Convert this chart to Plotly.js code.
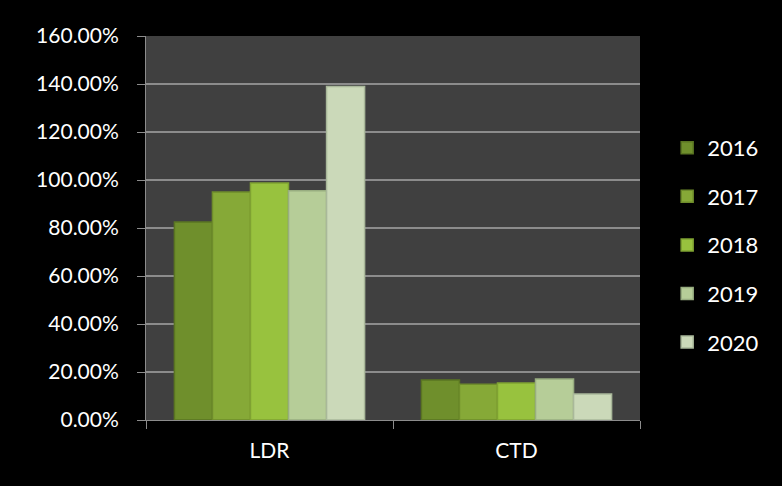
<!DOCTYPE html>
<html>
<head>
<meta charset="utf-8">
<script src="https://cdn.plot.ly/plotly-3.0.1.min.js"></script>
<style>html,body{margin:0;padding:0;background:#000;}#chart{width:782px;height:486px;}</style>
</head>
<body>
<div id="chart"></div>
<script>
const categories = ["LDR", "CTD"];
const years = ["2016", "2017", "2018", "2019", "2020"];
const v2016 = [0.825, 0.167];
const v2017 = [0.95, 0.149];
const v2018 = [0.987, 0.154];
const v2019 = [0.955, 0.171];
const v2020 = [1.39, 0.108];
const yTickVals = [0, 0.2, 0.4, 0.6, 0.8, 1.0, 1.2, 1.4, 1.6];

const seriesValues = [v2016, v2017, v2018, v2019, v2020];
const fills = ["#6f8f2c", "#86a937", "#98c23e", "#b6cd98", "#cbd9b9"];
const edges = ["#5a7522", "#6e8c2b", "#7fa232", "#98ad80", "#a9b89a"];

const traces = years.map((y, i) => ({
  type: "bar",
  name: y,
  x: categories,
  y: seriesValues[i],
  legendgroup: y,
  marker: {color: fills[i], line: {color: edges[i], width: 1.5}},
  hoverinfo: "x+y+name"
}));

const layout = {
  width: 782, height: 486,
  paper_bgcolor: "#000000",
  plot_bgcolor: "#404040",
  margin: {l: 146, r: 142, t: 36, b: 66},
  barmode: "group",
  bargap: 0.23,
  bargroupgap: 0,
  font: {family: "Lato, 'Open Sans', sans-serif", color: "#ffffff", size: 21},
  xaxis: {
    type: "category",
    tickson: "boundaries",
    ticks: "outside", ticklen: 8, tickcolor: "#8c8c8c", tickwidth: 1,
    showline: true, linecolor: "#8c8c8c", linewidth: 1,
    showgrid: false,
    tickfont: {size: 21, color: "#ffffff"},
    ticklabelstandoff: 12
  },
  yaxis: {
    range: [0, 1.6],
    tickvals: yTickVals,
    tickformat: ".2%",
    ticks: "outside", ticklen: 8, tickcolor: "#8c8c8c", tickwidth: 1,
    showline: true, linecolor: "#8c8c8c", linewidth: 1,
    gridcolor: "#8c8c8c", gridwidth: 1.5,
    zeroline: false,
    tickfont: {size: 21, color: "#ffffff"},
    ticklabelstandoff: 14
  },
  showlegend: true,
  legend: {
    x: 0.055, xanchor: "left", xref: "paper",
    y: 0.456, yanchor: "middle",
    font: {size: 22, color: "#ffffff"},
    bgcolor: "rgba(0,0,0,0)",
    tracegroupgap: 17,
    itemwidth: 30
  }
};
layout.legend.x = 1.055;

Plotly.newPlot("chart", traces, layout, {displayModeBar: false});
</script>
</body>
</html>
